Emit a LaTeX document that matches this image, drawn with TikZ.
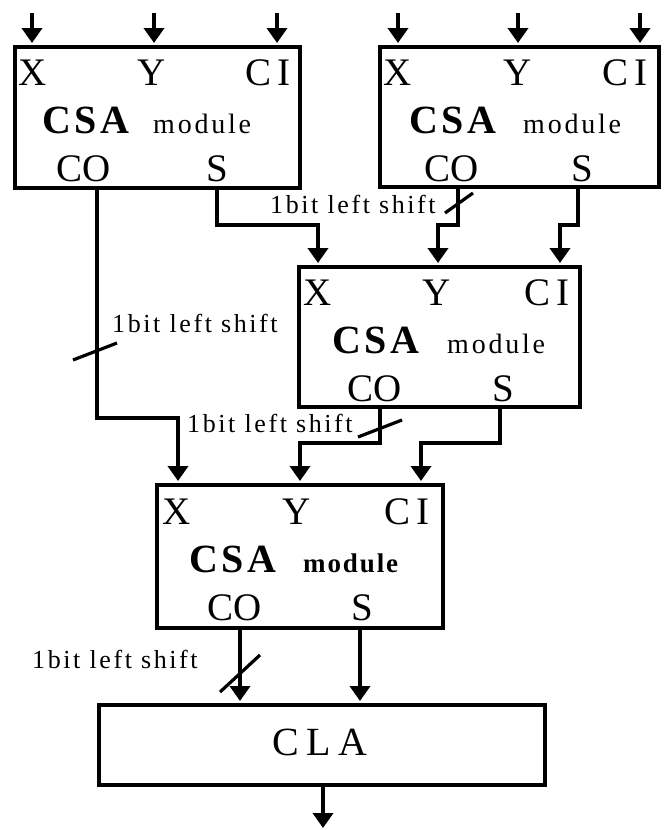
\documentclass[tikz,border=0pt]{standalone}
\usepackage{fontspec}
\setmainfont{Liberation Serif}
\usetikzlibrary{arrows.meta}
\begin{document}
\begin{tikzpicture}[x=1pt,y=-1pt,
  box/.style={draw,line width=4pt,inner sep=0pt},
  arr/.style={line width=4pt,-{Triangle[width=20pt,length=15pt]}},
  slash/.style={line width=3.2pt},
  lbl/.style={inner sep=0pt,anchor=base,font=\fontsize{39}{39}\selectfont},
  csa/.style={inner sep=0pt,anchor=base west,font=\fontsize{40}{40}\selectfont\bfseries\addfontfeature{LetterSpace=9}},
  mod/.style={inner sep=0pt,anchor=base west,font=\fontsize{28}{28}\selectfont\addfontfeature{LetterSpace=10}},
  modb/.style={inner sep=0pt,anchor=base west,font=\fontsize{27}{27}\selectfont\bfseries\addfontfeature{LetterSpace=7}},
  sh/.style={inner sep=0pt,anchor=base west,font=\fontsize{26}{26}\selectfont\addfontfeature{LetterSpace=10}},
  clat/.style={inner sep=0pt,anchor=base,font=\fontsize{40}{40}\selectfont\addfontfeature{LetterSpace=18}}
]
\useasboundingbox (0,0) rectangle (666,830);

% boxes
\node[box,anchor=north west,minimum width=285pt,minimum height=141pt] (b1) at (13,45) {};
\node[box,anchor=north west,minimum width=279pt,minimum height=140pt] (b2) at (378,45) {};
\node[box,anchor=north west,minimum width=281pt,minimum height=140pt] (b3) at (297,265) {};
\node[box,anchor=north west,minimum width=286pt,minimum height=143pt] (b4) at (155,483) {};
\node[box,anchor=north west,minimum width=446pt,minimum height=80pt] (cla) at (97,703) {};

% box 1 texts
\node[lbl] (b1x) at (33,85) {X};
\node[lbl] (b1y) at (152,85) {Y};
\node[lbl] (b1ci) at (268,85) {C\hspace{6pt}I};
\node[csa] (b1csa) at (42,133) {CSA};
\node[mod] (b1mod) at (153,133) {module};
\node[lbl] (b1co) at (84,181) {CO};
\node[lbl] (b1s) at (217,181) {S};
% box 2 texts
\node[lbl] (b2x) at (398,85) {X};
\node[lbl] (b2y) at (518,85) {Y};
\node[lbl] (b2ci) at (625,85) {C\hspace{6pt}I};
\node[csa] (b2csa) at (409,133) {CSA};
\node[mod] (b2mod) at (523,133) {module};
\node[lbl] (b2co) at (452,181) {CO};
\node[lbl] (b2s) at (582,181) {S};
% box 3 texts
\node[lbl] (b3x) at (318,305) {X};
\node[lbl] (b3y) at (437,305) {Y};
\node[lbl] (b3ci) at (547,305) {C\hspace{6pt}I};
\node[csa] (b3csa) at (332,353) {CSA};
\node[mod] (b3mod) at (447,353) {module};
\node[lbl] (b3co) at (375,401) {CO};
\node[lbl] (b3s) at (503,401) {S};
% box 4 texts
\node[lbl] (b4x) at (177,524) {X};
\node[lbl] (b4y) at (297,524) {Y};
\node[lbl] (b4ci) at (407,524) {C\hspace{6pt}I};
\node[csa] (b4csa) at (189,572) {CSA};
\node[modb] (b4mod) at (303,572) {module};
\node[lbl] (b4co) at (235,620) {CO};
\node[lbl] (b4s) at (362,620) {S};
% CLA text
\node[clat] (clatxt) at (320,755) {CLA};

% shift labels
\node[sh] (sh1) at (112,332) {1bit left shift};
\node[sh] (sh2) at (270,213) {1bit left shift};
\node[sh] (sh3) at (187,432) {1bit left shift};
\node[sh] (sh4) at (32,668) {1bit left shift};

% coordinates: inputs
\coordinate (i1a) at (32,13);  \coordinate (i1b) at (154,13); \coordinate (i1c) at (277,13);
\coordinate (i2a) at (398,13); \coordinate (i2b) at (518,13); \coordinate (i2c) at (640,13);
\coordinate (t1a) at (32,43);  \coordinate (t1b) at (154,43); \coordinate (t1c) at (277,43);
\coordinate (t2a) at (398,43); \coordinate (t2b) at (518,43); \coordinate (t2c) at (640,43);
% box ports
\coordinate (o1co) at (97,186);  \coordinate (o1s) at (217,186);
\coordinate (o2co) at (458,185); \coordinate (o2s) at (578,185);
\coordinate (t3x) at (318,263);  \coordinate (t3y) at (438,263); \coordinate (t3ci) at (560,263);
\coordinate (o3co) at (380,405); \coordinate (o3s) at (500,405);
\coordinate (t4x) at (178,481);  \coordinate (t4y) at (300,481); \coordinate (t4ci) at (421,481);
\coordinate (o4co) at (240,626); \coordinate (o4s) at (360,626);
\coordinate (tcco) at (240,701); \coordinate (tcs) at (360,701);
\coordinate (ocla) at (323,783); \coordinate (out) at (323,828);

% input arrows
\foreach \a/\b in {i1a/t1a,i1b/t1b,i1c/t1c,i2a/t2a,i2b/t2b,i2c/t2c}
  \draw[arr] (\a) -- (\b);

% connections
\draw[arr] (o1s) -- ++(0,39) -| (t3x);
\draw[arr] (o2co) -- ++(0,40) -| (t3y);
\draw[arr] (o2s) -- ++(0,40) -| (t3ci);
\draw[arr] (o1co) -- ++(0,232) -| (t4x);
\draw[arr] (o3co) -- ++(0,38) -| (t4y);
\draw[arr] (o3s) -- ++(0,38) -| (t4ci);
\draw[arr] (o4co) -- (tcco);
\draw[arr] (o4s) -- (tcs);
\draw[arr] (ocla) -- (out);

% shift slashes
\coordinate (s1a) at (73,360);  \coordinate (s1b) at (117,343);
\coordinate (s2a) at (445,213); \coordinate (s2b) at (473,193);
\coordinate (s3a) at (358,437); \coordinate (s3b) at (402,420);
\coordinate (s4a) at (220,692); \coordinate (s4b) at (260,655);
\draw[slash] (s1a) -- (s1b);
\draw[slash] (s2a) -- (s2b);
\draw[slash] (s3a) -- (s3b);
\draw[slash] (s4a) -- (s4b);
\end{tikzpicture}
\end{document}
